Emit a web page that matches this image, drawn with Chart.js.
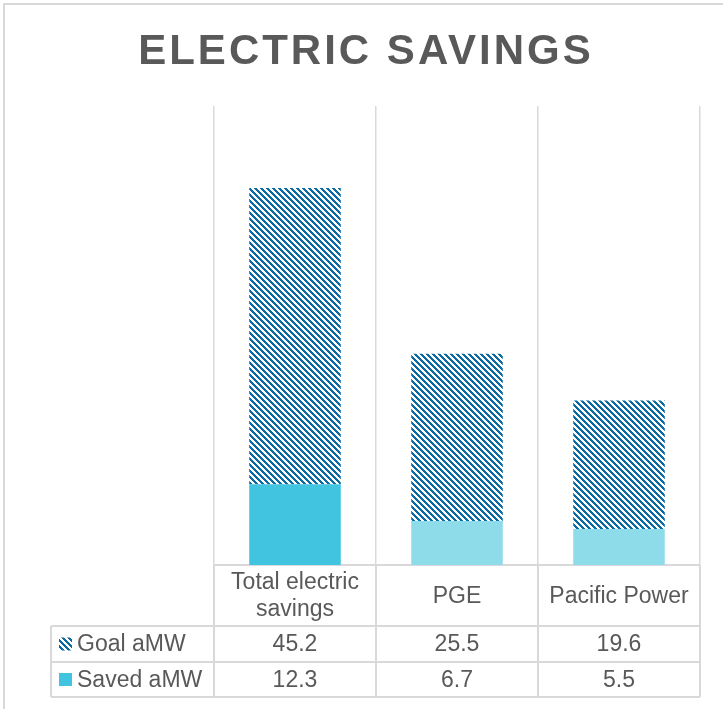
<!DOCTYPE html>
<html>
<head>
<meta charset="utf-8">
<script src="https://cdn.jsdelivr.net/npm/chart.js@4.4.1/dist/chart.umd.min.js"></script>
<style>
  html, body { margin: 0; padding: 0; background: #ffffff; }
  #wrap { width: 723px; height: 709px; position: relative; }
</style>
</head>
<body>
<div id="wrap"><canvas id="c"></canvas></div>
<script>
// ---- data ----
const chartTitle = 'ELECTRIC SAVINGS';
const categories = ['Total electric savings', 'PGE', 'Pacific Power'];
const seriesNames = ['Goal aMW', 'Saved aMW'];
const goalValues = [45.2, 25.5, 19.6];
const savedValues = [12.3, 6.7, 5.5];
const yMax = 70;

// ---- styles ----
const textColor = '#595959';
const lineColor = '#d9d9d9';
const savedColors = ['#41c4df', '#8edbea', '#8edbea'];
const hatchColor = '#0b69a3';
const fontFamily = "'Liberation Sans', Arial, sans-serif";

function makeHatch() {
  const n = 6;
  const c = document.createElement('canvas');
  c.width = n; c.height = n;
  const g = c.getContext('2d');
  g.fillStyle = '#ffffff';
  g.fillRect(0, 0, n, n);
  g.fillStyle = hatchColor;
  for (let y = 0; y < n; y++) {
    for (let x = 0; x < n; x++) {
      if ((((x - y) % n) + n) % n < 3) g.fillRect(x, y, 1, 1);
    }
  }
  return g.createPattern(c, 'repeat');
}
const hatch = makeHatch();

function wrapText(ctx, text, maxW) {
  const words = text.split(' ');
  const lines = [];
  let cur = '';
  for (const w of words) {
    const t = cur ? cur + ' ' + w : w;
    if (ctx.measureText(t).width > maxW && cur) { lines.push(cur); cur = w; }
    else cur = t;
  }
  if (cur) lines.push(cur);
  return lines;
}

const decorPlugin = {
  id: 'decor',
  beforeDraw(chart) {
    const ctx = chart.ctx;
    ctx.save();
    ctx.fillStyle = '#ffffff';
    ctx.fillRect(0, 0, chart.width, chart.height);
    // outer border
    ctx.strokeStyle = lineColor;
    ctx.lineWidth = 2;
    ctx.strokeRect(4, 4, chart.width + 10, chart.height + 10);
    // title
    ctx.fillStyle = textColor;
    ctx.font = 'bold 42px ' + fontFamily;
    ctx.textAlign = 'center';
    ctx.textBaseline = 'alphabetic';
    try { ctx.letterSpacing = '3px'; } catch (e) {}
    ctx.fillText(chartTitle, 366, 64);
    try { ctx.letterSpacing = '0px'; } catch (e) {}
    ctx.restore();
  },
  afterDraw(chart) {
    const ctx = chart.ctx;
    const xs = chart.scales.x;
    const area = chart.chartArea;
    const n = categories.length;
    const colW = (area.right - area.left) / n;
    const tableLeft = 51;
    const yAxis = area.bottom;
    const yRow1 = yAxis + 61;
    const yRow2 = yRow1 + 36;
    const yEnd = yRow2 + 35;

    ctx.save();
    ctx.strokeStyle = lineColor;
    ctx.lineWidth = 2;
    ctx.beginPath();
    [yRow1, yRow2, yEnd].forEach(y => {
      ctx.moveTo(tableLeft, y); ctx.lineTo(area.right, y);
    });
    ctx.moveTo(tableLeft, yRow1); ctx.lineTo(tableLeft, yEnd);
    for (let i = 0; i <= n; i++) {
      const x = (i < n ? xs.getPixelForValue(i) - colW / 2 : xs.getPixelForValue(n - 1) + colW / 2);
      ctx.moveTo(x, yAxis); ctx.lineTo(x, yEnd);
    }
    ctx.stroke();

    ctx.fillStyle = textColor;
    ctx.font = '23px ' + fontFamily;
    ctx.textAlign = 'center';
    ctx.textBaseline = 'middle';
    categories.forEach((cat, i) => {
      const cx = xs.getPixelForValue(i);
      const lines = wrapText(ctx, cat, colW - 10);
      const lh = 27;
      const midY = (yAxis + yRow1) / 2 + 1;
      const startY = midY - (lines.length - 1) * lh / 2;
      lines.forEach((ln, k) => ctx.fillText(ln, cx, startY + k * lh));
    });
    const rows = [goalValues, savedValues];
    const rowMid = [(yRow1 + yRow2) / 2, (yRow2 + yEnd) / 2];
    rows.forEach((vals, r) => {
      vals.forEach((v, i) => {
        ctx.fillText(v.toFixed(1), xs.getPixelForValue(i), rowMid[r] + 1);
      });
    });
    ctx.textAlign = 'left';
    seriesNames.forEach((name, r) => {
      const ky = rowMid[r] - 6.5;
      ctx.fillStyle = r === 0 ? hatch : savedColors[0];
      ctx.fillRect(59, ky, 13, 13);
      ctx.fillStyle = textColor;
      ctx.fillText(name, 77, rowMid[r] + 1);
    });
    ctx.restore();
  }
};

new Chart(document.getElementById('c'), {
  type: 'bar',
  data: {
    labels: categories,
    datasets: [
      { label: seriesNames[1], data: savedValues, backgroundColor: savedColors, borderWidth: 0 },
      { label: seriesNames[0], data: goalValues, backgroundColor: hatch, borderWidth: 0 }
    ]
  },
  options: {
    responsive: true,
    maintainAspectRatio: false,
    animation: false,
    events: [],
    layout: { padding: { left: 214, top: 106, right: 23, bottom: 0 } },
    datasets: { bar: { categoryPercentage: 1.0, barPercentage: 0.565 } },
    plugins: {
      legend: { display: false },
      title: { display: false },
      tooltip: { enabled: false }
    },
    scales: {
      x: {
        stacked: true,
        ticks: { display: false },
        grid: { display: true, color: lineColor, lineWidth: 1.5, drawTicks: false, offset: true },
        border: { display: true, color: lineColor, width: 2 },
        afterFit(scale) { scale.height = 144; }
      },
      y: {
        stacked: true,
        display: false,
        min: 0,
        max: yMax
      }
    }
  },
  plugins: [decorPlugin]
});
</script>
</body>
</html>
